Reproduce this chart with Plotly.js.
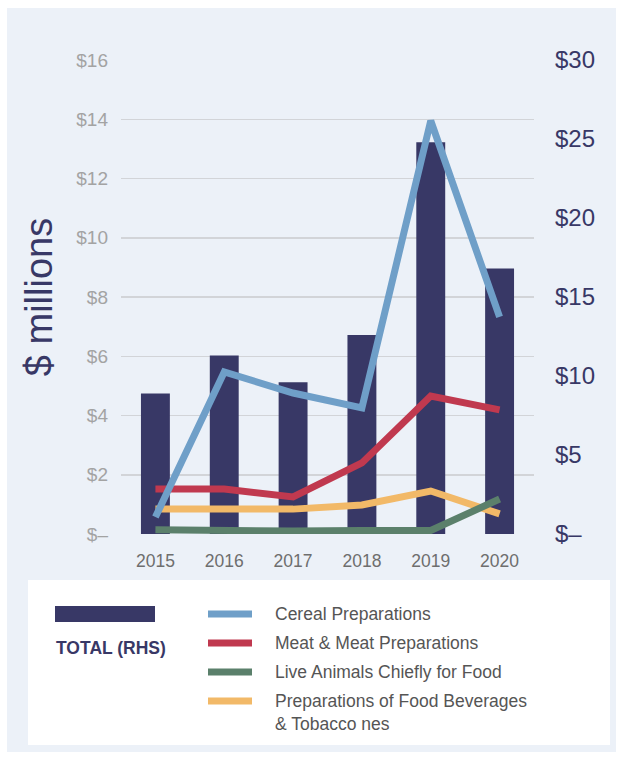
<!DOCTYPE html>
<html>
<head>
<meta charset="utf-8">
<script src="https://cdn.plot.ly/plotly-3.0.1.min.js"></script>
<style>
  html, body { margin: 0; padding: 0; background: #ffffff; }
  #chart { position: absolute; left: 7px; top: 8px; width: 609px; height: 744px; }
</style>
</head>
<body>
<div id="chart"></div>
<script>
// ---- Data ----
const years = ['2015', '2016', '2017', '2018', '2019', '2020'];
const totalRHS = [8.9, 11.3, 9.6, 12.6, 24.8, 16.8];
const cereal = [0.57, 5.47, 4.76, 4.26, 13.95, 7.33];
const meat = [1.52, 1.52, 1.25, 2.4, 4.66, 4.19];
const liveAnimals = [0.14, 0.1, 0.1, 0.12, 0.12, 1.18];
const prepFood = [0.84, 0.84, 0.84, 0.98, 1.45, 0.68];

const seriesNames = ['Cereal Preparations', 'Meat & Meat Preparations', 'Live Animals Chiefly for Food', 'Preparations of Food Beverages<br>& Tobacco nes'];
const totalName = 'TOTAL (RHS)';

const leftTickVals = [0, 2, 4, 6, 8, 10, 12, 14, 16];
const leftTickText = ['$–', '$2', '$4', '$6', '$8', '$10', '$12', '$14', '$16'];
const rightTickVals = [0, 5, 10, 15, 20, 25, 30];
const rightTickText = ['$–', '$5', '$10', '$15', '$20', '$25', '$30'];

// ---- Styles ----
const NAVY = '#383866';
const colors = ['#6f9fc8', '#c0394f', '#5b806b', '#f2b968'];
const FONT = 'Liberation Sans, Arial, sans-serif';

// layout geometry (div pixels)
const W = 609, H = 744;
const M = { l: 114, r: 82, t: 52, b: 218 };
const pw = W - M.l - M.r, ph = H - M.t - M.b;
const px = x => (x - M.l) / pw;
const py = y => (H - M.b - y) / ph;

const lineSeries = [cereal, meat, liveAnimals, prepFood];

// bars on the primary (right-side) axis so that lines on the overlay are drawn above
const traces = [{
  type: 'bar', x: years, y: totalRHS, yaxis: 'y', name: totalName,
  marker: { color: NAVY }, width: 0.42, showlegend: false, hoverinfo: 'x+y'
}];
for (let i = lineSeries.length - 1; i >= 0; i--) {
  traces.push({
    type: 'scatter', mode: 'lines', x: years, y: lineSeries[i], name: seriesNames[i], yaxis: 'y2',
    line: { color: colors[i], width: 7 }, showlegend: false
  });
}

const shapes = [];
const annotations = [];
shapes.push({ type: 'rect', xref: 'paper', yref: 'paper', x0: px(21), x1: px(603), y0: py(572), y1: py(737),
  fillcolor: '#ffffff', line: { width: 0 }, layer: 'below' });
shapes.push({ type: 'rect', xref: 'paper', yref: 'paper', x0: px(48), x1: px(148), y0: py(598), y1: py(614),
  fillcolor: NAVY, line: { width: 0 } });
annotations.push({ xref: 'paper', yref: 'paper', x: px(47), y: py(640), xanchor: 'left', yanchor: 'middle',
  text: '<b>' + totalName + '</b>', showarrow: false, font: { family: FONT, size: 17.5, color: NAVY } });
const rowY = [606, 635, 664, 693];
for (let i = 0; i < seriesNames.length; i++) {
  shapes.push({ type: 'line', xref: 'paper', yref: 'paper', x0: px(201), x1: px(245), y0: py(rowY[i]), y1: py(rowY[i]),
    line: { color: colors[i], width: 7 } });
  annotations.push({ xref: 'paper', yref: 'paper', x: px(266), y: py(rowY[i] - 12), xanchor: 'left', yanchor: 'top',
    align: 'left', text: seriesNames[i], showarrow: false,
    font: { family: FONT, size: 17.5, color: '#555555' } });
}

const layout = {
  width: W, height: H,
  margin: M,
  paper_bgcolor: '#ecf1f8', plot_bgcolor: '#ecf1f8',
  font: { family: FONT },
  showlegend: false,
  xaxis: {
    type: 'category', range: [-0.5, 5.5], showgrid: false, zeroline: false, showline: false,
    ticks: '', ticklabelstandoff: 14, tickfont: { family: FONT, size: 17.5, color: '#6e6e6e' }
  },
  yaxis: {
    side: 'right', range: [0, 30], tickvals: rightTickVals, ticktext: rightTickText,
    showgrid: false, zeroline: false, ticks: '',
    ticklabelstandoff: 20, tickfont: { family: FONT, size: 24, color: NAVY }
  },
  yaxis2: {
    overlaying: 'y', side: 'left', range: [0, 16], tickvals: leftTickVals, ticktext: leftTickText,
    showgrid: true, gridcolor: '#d2d4d8', gridwidth: 1.5, zeroline: false, ticks: '',
    ticklabelstandoff: 12, tickfont: { family: FONT, size: 19, color: '#a3a3a3' },
    title: { text: '$ millions', font: { family: FONT, size: 38, color: NAVY }, standoff: 11 }
  },
  shapes: shapes,
  annotations: annotations
};

Plotly.newPlot('chart', traces, layout, { displayModeBar: false, staticPlot: true });
</script>
</body>
</html>
